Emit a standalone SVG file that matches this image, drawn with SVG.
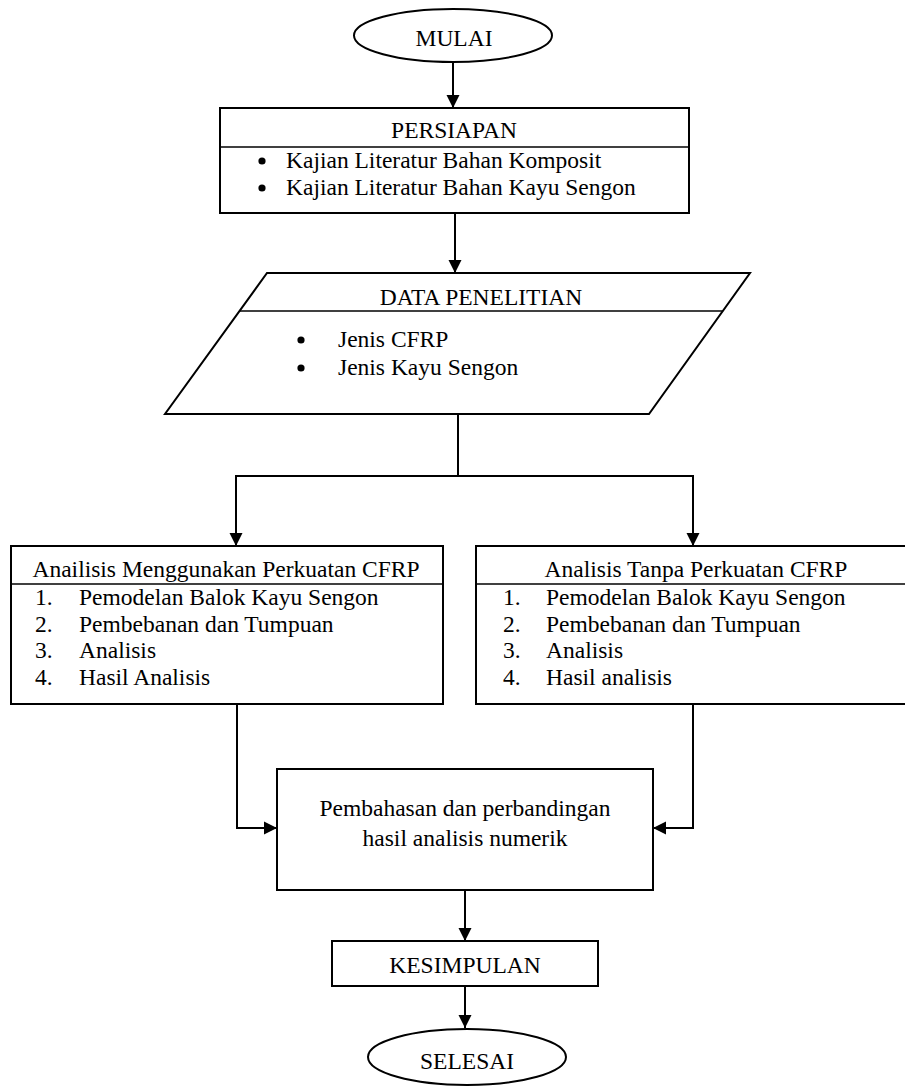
<svg xmlns="http://www.w3.org/2000/svg" width="905" height="1088" viewBox="0 0 905 1088">
<style>
.s{fill:#fff;stroke:#000;stroke-width:2}
.d{stroke:#000;stroke-width:1.6;fill:none}
.c{stroke:#000;stroke-width:2;fill:none}
.b{fill:#000}
text{font-family:"Liberation Serif","Times New Roman",serif;font-size:23.5px;fill:#000}
.m{text-anchor:middle}
</style>
<defs>
<marker id="ah" markerUnits="userSpaceOnUse" markerWidth="14" markerHeight="14" refX="13" refY="7" orient="auto">
<path d="M0,0.5 L13,7 L0,13.5 z" fill="#000"/>
</marker>
</defs>
<rect width="905" height="1088" fill="#fff"/>
<g id="connectors">
<line class="c" x1="453" y1="62" x2="453" y2="108" marker-end="url(#ah)"/>
<line class="c" x1="455" y1="213" x2="455" y2="273" marker-end="url(#ah)"/>
<line class="c" x1="458" y1="414" x2="458" y2="476"/>
<line class="c" x1="236" y1="476" x2="693" y2="476"/>
<line class="c" x1="236" y1="475" x2="236" y2="546" marker-end="url(#ah)"/>
<line class="c" x1="693" y1="475" x2="693" y2="546" marker-end="url(#ah)"/>
<polyline class="c" points="237,704 237,828 277,828" marker-end="url(#ah)"/>
<polyline class="c" points="693,704 693,828 653,828" marker-end="url(#ah)"/>
<line class="c" x1="465" y1="890" x2="465" y2="941" marker-end="url(#ah)"/>
<line class="c" x1="465" y1="986" x2="465" y2="1028" marker-end="url(#ah)"/>
</g>
<g id="mulai">
<ellipse class="s" cx="453" cy="35.5" rx="99" ry="26.5" stroke-width="1.6"/>
<text class="m" x="454" y="46">MULAI</text>
</g>
<g id="persiapan">
<rect class="s" x="220" y="108" width="469" height="105"/>
<line class="d" x1="220" y1="147" x2="689" y2="147"/>
<text class="m" x="454" y="138">PERSIAPAN</text>
<circle class="b" cx="262" cy="161" r="3.6"/>
<text x="286" y="168">Kajian Literatur Bahan Komposit</text>
<circle class="b" cx="262" cy="188" r="3.6"/>
<text x="286" y="195">Kajian Literatur Bahan Kayu Sengon</text>
</g>
<g id="data">
<polygon class="s" points="267,273 750,273 649,414 165,414"/>
<line class="d" x1="239" y1="311" x2="723" y2="311"/>
<text class="m" x="481" y="305">DATA PENELITIAN</text>
<circle class="b" cx="301" cy="340" r="3.6"/>
<text x="338" y="347">Jenis CFRP</text>
<circle class="b" cx="301" cy="368" r="3.6"/>
<text x="338" y="375">Jenis Kayu Sengon</text>
</g>
<g id="analisis-cfrp">
<rect class="s" x="11" y="546" width="432" height="158"/>
<line class="d" x1="11" y1="584" x2="443" y2="584"/>
<text class="m" x="226" y="577">Anailisis Menggunakan Perkuatan CFRP</text>
<text x="35" y="605">1.</text><text x="79" y="605">Pemodelan Balok Kayu Sengon</text>
<text x="35" y="632">2.</text><text x="79" y="632">Pembebanan dan Tumpuan</text>
<text x="35" y="658">3.</text><text x="79" y="658">Analisis</text>
<text x="35" y="685">4.</text><text x="79" y="685">Hasil Analisis</text>
</g>
<g id="analisis-tanpa">
<rect class="s" x="476" y="546" width="440" height="158"/>
<line class="d" x1="476" y1="584" x2="905" y2="584"/>
<text class="m" x="696" y="577">Analisis Tanpa Perkuatan CFRP</text>
<text x="503" y="605">1.</text><text x="546" y="605">Pemodelan Balok Kayu Sengon</text>
<text x="503" y="632">2.</text><text x="546" y="632">Pembebanan dan Tumpuan</text>
<text x="503" y="658">3.</text><text x="546" y="658">Analisis</text>
<text x="503" y="685">4.</text><text x="546" y="685">Hasil analisis</text>
</g>
<g id="pembahasan">
<rect class="s" x="277" y="769" width="376" height="121"/>
<text class="m" x="465" y="816">Pembahasan dan perbandingan</text>
<text class="m" x="465" y="846">hasil analisis numerik</text>
</g>
<g id="kesimpulan">
<rect class="s" x="332" y="941" width="266" height="45"/>
<text class="m" x="465" y="973">KESIMPULAN</text>
</g>
<g id="selesai">
<ellipse class="s" cx="467" cy="1057" rx="99" ry="28" stroke-width="1.6"/>
<text class="m" x="467" y="1069">SELESAI</text>
</g>
</svg>
